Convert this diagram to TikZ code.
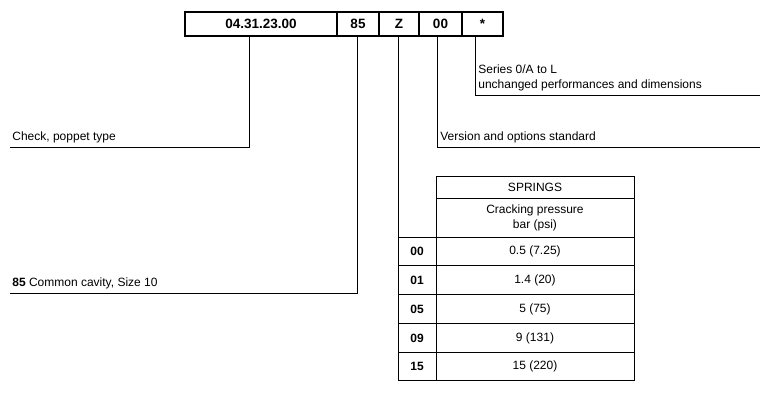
\documentclass[tikz,border=0pt]{standalone}
\usepackage{fontspec}
\setmainfont{Liberation Sans}
\begin{document}
\begin{tikzpicture}[x=1pt,y=-1pt,line width=0.8pt,font=\fontsize{12}{14}\selectfont,
  codebox/.style={draw,line width=1.2pt,minimum height=24pt,inner sep=0pt,font=\fontsize{13.5}{15}\selectfont\bfseries},
  lbl/.style={anchor=south west,inner sep=1pt},
  cell/.style={inner sep=0pt}]
    \useasboundingbox (0,0) rectangle (777,400);

    % Code boxes
    \node[codebox,minimum width=152pt] (c1) at (261,24) {04.31.23.00};
    \node[codebox,minimum width=42pt] (c2) at (358,24) {85};
    \node[codebox,minimum width=40pt] (c3) at (399,24) {Z};
    \node[codebox,minimum width=43pt] (c4) at (440.5,24) {00};
    \node[codebox,minimum width=41pt] (c5) at (482.5,24) {*};

    % Leader coordinates
    \coordinate (a1) at (249,147);
    \coordinate (b1) at (10,147);
    \coordinate (a2) at (357,293);
    \coordinate (b2) at (10,293);
    \coordinate (a3) at (398,380);
    \coordinate (a4) at (437,147);
    \coordinate (b4) at (760,147);
    \coordinate (a5) at (475,95);
    \coordinate (b5) at (760,95);

    % Leaders
    \draw (c1.south -| a1) -- (a1) -- (b1);
    \draw (c2.south -| a2) -- (a2) -- (b2);
    \draw (c3.south -| a3) -- (a3);
    \draw (c4.south -| a4) -- (a4) -- (b4);
    \draw (c5.south -| a5) -- (a5) -- (b5);

    % Labels
    \node[lbl] (t1) at (11,144) {Check, poppet type};
    \node[lbl] (t2) at (11,290) {\textbf{85} Common cavity, Size 10};
    \node[lbl] (t4) at (439,144) {Version and options standard};
    \node[lbl] (t5) at (477,92) {unchanged performances and dimensions};
    \node[lbl] (t6) at (477,75) {Series 0/A to L};

    % Table
    \draw (436,176) rectangle (634,237);
    \draw (436,198) -- (634,198);
    \draw (398,237) rectangle (634,380);
    \draw (436,237) -- (436,380);
    \foreach \y in {265,294,323,352}
        \draw (398,\y) -- (634,\y);
    \node[cell] (hs) at (535,187) {SPRINGS};
    \node[cell,align=center,font=\fontsize{12}{15}\selectfont] (hc) at (535,218) {Cracking pressure\\bar (psi)};
    \foreach \k/\v/\y in {00/0.5 (7.25)/251.5, 01/1.4 (20)/280, 05/5 (75)/309, 09/9 (131)/338, 15/15 (220)/366.5}{
        \node[cell,font=\fontsize{12}{14}\selectfont\bfseries] at (417,\y) {\k};
        \node[cell] at (535,\y) {\v};
    }
\end{tikzpicture}
\end{document}
